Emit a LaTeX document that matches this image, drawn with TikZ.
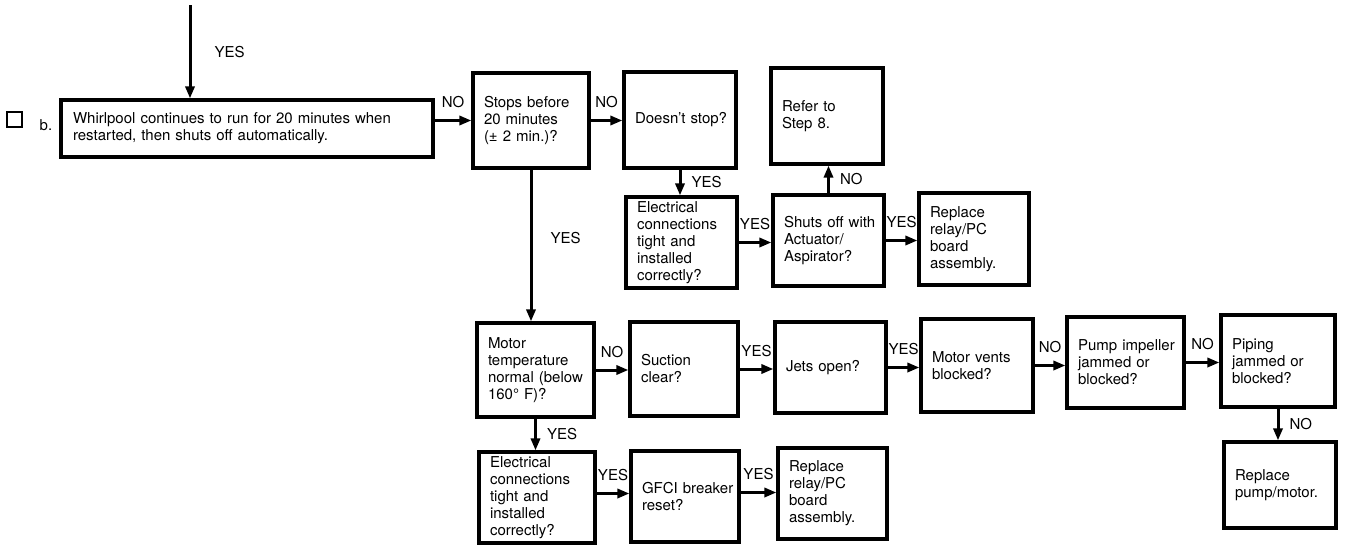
\documentclass[tikz,border=0pt]{standalone}
\usepackage{fontspec}
\setmainfont{TeX Gyre Heros}
\usetikzlibrary{arrows.meta}
\newcommand\bxfont{\fontsize{15}{17}\selectfont}
\hyphenpenalty=10000
\exhyphenpenalty=10000
\begin{document}
\begin{tikzpicture}[x=1pt,y=-1pt,
 box/.style={draw, line width=3.1pt, rectangle, inner xsep=11pt, inner ysep=0pt, align=left, font=\bxfont},
 arr/.style={line width=3pt, -{Triangle[length=12pt,width=9pt]}},
 lbl/.style={font=\bxfont, inner sep=0pt},
 lh/.style={lbl, midway, above=11pt},
 lv/.style={lbl, midway, right=10pt}]
\useasboundingbox (0,0) rectangle (1345,544);

\node[draw, line width=2.6pt, minimum size=15pt, inner sep=0pt] (chk) at (14.5,119.5) {};
\node[lbl] (bmark) at (46,125) {b.};

\node[box, minimum width=372pt, minimum height=57pt, text width=348pt, inner xsep=12pt] (main) at (247,128.5) {Whirlpool continues to run for 20 minutes when\\restarted, then shuts off automatically.};
\node[box, minimum width=116pt, minimum height=95pt, text width=94pt] (stops) at (531,120.5) {Stops before\\20 minutes\\(± 2 min.)?};
\node[box, minimum width=112pt, minimum height=96pt, text width=90pt] (doesnt) at (680,120) {\mbox{Doesn't stop?}};
\node[box, minimum width=112pt, minimum height=96pt, text width=90pt] (refer) at (827,116) {Refer to\\Step 8.};
\node[box, minimum width=111pt, minimum height=91pt, text width=89pt] (elec1) at (681.5,242.5) {Electrical\\connections\\tight and\\installed\\correctly?};
\node[box, minimum width=111pt, minimum height=91pt, text width=89pt] (shuts) at (828.5,240.5) {\mbox{Shuts off with}\\Actuator/\\Aspirator?};
\node[box, minimum width=110pt, minimum height=92pt, text width=88pt] (repl1) at (974,239) {Replace\\relay/PC\\board\\assembly.};
\node[box, minimum width=117pt, minimum height=94pt, text width=95pt] (motor) at (535.5,370) {Motor\\temperature\\\mbox{normal (below}\\\mbox{160° F)?}};
\node[box, minimum width=108pt, minimum height=94pt, text width=86pt] (suction) at (684,369) {Suction\\clear?};
\node[box, minimum width=111pt, minimum height=91pt, text width=89pt] (jets) at (830.5,367.5) {\mbox{Jets open?}};
\node[box, minimum width=112pt, minimum height=93pt, text width=90pt] (vents) at (977,365.5) {\mbox{Motor vents}\\blocked?};
\node[box, minimum width=117pt, minimum height=91pt, text width=95pt] (pump) at (1125.5,362.5) {\mbox{Pump impeller}\\jammed or\\blocked?};
\node[box, minimum width=114pt, minimum height=92pt, text width=92pt] (piping) at (1278,361) {Piping\\jammed or\\blocked?};
\node[box, minimum width=112pt, minimum height=86pt, text width=90pt] (replpump) at (1280,485) {Replace\\\mbox{pump/motor.}};
\node[box, minimum width=116pt, minimum height=91pt, text width=94pt] (elec2) at (537,497.5) {Electrical\\connections\\tight and\\installed\\correctly?};
\node[box, minimum width=108pt, minimum height=91pt, text width=86pt] (gfci) at (685,496.5) {\mbox{GFCI breaker}\\reset?};
\node[box, minimum width=109pt, minimum height=91pt, text width=87pt] (repl2) at (832.5,493.5) {Replace\\relay/PC\\board\\assembly.};

\coordinate (start) at (190,5);
\draw[arr] (start) -- (start |- main.north) node[lv, right=13pt] {YES};
\draw[arr] (main.east |- stops.west) -- (stops.west) node[lh] {NO};
\draw[arr] (stops.east) -- (stops.east -| doesnt.west) node[lh] {NO};
\draw[arr] (doesnt.south) -- (doesnt.south |- elec1.north) node[lv] {YES};
\draw[arr] (elec1.east) -- (elec1.east -| shuts.west) node[lh] {YES};
\draw[arr] (shuts.north) -- (shuts.north |- refer.south) node[lv] {NO};
\draw[arr] (shuts.east) -- (shuts.east -| repl1.west) node[lh] {YES};
\draw[arr] (stops.south) -- (stops.south |- motor.north) node[lv, pos=0.45, right=8pt] {YES};
\draw[arr] (motor.east) -- (motor.east -| suction.west) node[lh] {NO};
\draw[arr] (suction.east) -- (suction.east -| jets.west) node[lh] {YES};
\draw[arr] (jets.east) -- (jets.east -| vents.west) node[lh] {YES};
\draw[arr] (vents.east) -- (vents.east -| pump.west) node[lh] {NO};
\draw[arr] (pump.east) -- (pump.east -| piping.west) node[lh] {NO};
\draw[arr] (piping.south) -- (piping.south |- replpump.north) node[lv] {NO};
\draw[arr] (motor.south) -- (motor.south |- elec2.north) node[lv] {YES};
\draw[arr] ([yshift=4pt]elec2.east) -- ([yshift=4pt]elec2.east -| gfci.west) node[lh] {YES};
\draw[arr] ([yshift=4pt]gfci.east) -- ([yshift=4pt]gfci.east -| repl2.west) node[lh] {YES};
\end{tikzpicture}
\end{document}
